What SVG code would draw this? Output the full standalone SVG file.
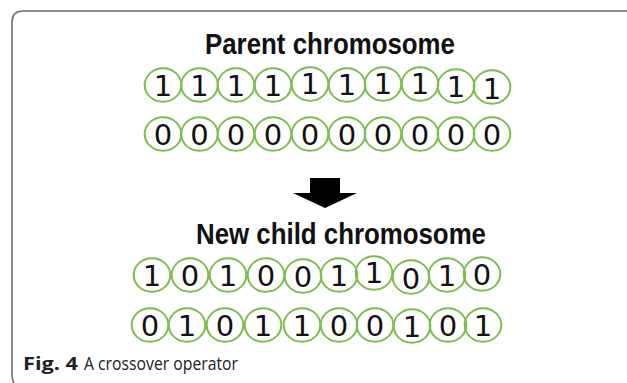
<svg xmlns="http://www.w3.org/2000/svg" width="627" height="383" viewBox="0 0 627 383">
<style>
.frame{fill:none;stroke:#6e6e6e;stroke-width:1.6}
.c{fill:none;stroke:#7cbd4e;stroke-width:2}
.d{font-family:"DejaVu Sans",sans-serif;font-size:29px;fill:#111;text-anchor:middle}
.t{font-family:"Liberation Sans",sans-serif;font-weight:bold;font-size:30px;fill:#111}
.cap{font-family:"Open Sans","Liberation Sans",sans-serif;font-size:18px;fill:#222}
</style>
<defs>
<ellipse id="g" rx="18.3" ry="16.8" class="c"/>
</defs>
<path class="frame" d="M627,11 H23 Q12,11 12,22 V374 Q12,381 15,385"/>
<g id="title-parent"><text class="t" x="205" y="54" textLength="250" lengthAdjust="spacingAndGlyphs">Parent chromosome</text></g>
<g id="parent-1">
<use href="#g" x="163" y="85"/><text class="d" x="163" y="96">1</text>
<use href="#g" x="199.5" y="85"/><text class="d" x="199.5" y="96">1</text>
<use href="#g" x="236" y="85"/><text class="d" x="236" y="96">1</text>
<use href="#g" x="273" y="85"/><text class="d" x="273" y="96">1</text>
<use href="#g" x="310" y="84"/><text class="d" x="310" y="94">1</text>
<use href="#g" x="347" y="85"/><text class="d" x="347" y="95">1</text>
<use href="#g" x="383" y="84"/><text class="d" x="383" y="94">1</text>
<use href="#g" x="420" y="84"/><text class="d" x="420" y="94">1</text>
<use href="#g" x="456" y="86"/><text class="d" x="456" y="97">1</text>
<use href="#g" x="492" y="87"/><text class="d" x="492" y="99">1</text>
</g>
<g id="parent-2">
<use href="#g" x="163" y="134"/><text class="d" x="163" y="145">0</text>
<use href="#g" x="199.5" y="134"/><text class="d" x="199.5" y="145">0</text>
<use href="#g" x="236" y="134"/><text class="d" x="236" y="145">0</text>
<use href="#g" x="273" y="134"/><text class="d" x="273" y="145">0</text>
<use href="#g" x="310" y="134"/><text class="d" x="310" y="145">0</text>
<use href="#g" x="347" y="134"/><text class="d" x="347" y="145">0</text>
<use href="#g" x="383" y="134"/><text class="d" x="383" y="145">0</text>
<use href="#g" x="420" y="134"/><text class="d" x="420" y="145">0</text>
<use href="#g" x="456" y="134"/><text class="d" x="456" y="145">0</text>
<use href="#g" x="492" y="134"/><text class="d" x="492" y="145">0</text>
</g>
<g id="connectors">
<path d="M310,178 H340 V193 H357 L325,208 L293,193 H310 Z" fill="#000"/>
</g>
<g id="title-child"><text class="t" x="196" y="244" textLength="290" lengthAdjust="spacingAndGlyphs">New child chromosome</text></g>
<g id="child-1">
<use href="#g" x="152" y="275"/><text class="d" x="152" y="286">1</text>
<use href="#g" x="190" y="275"/><text class="d" x="190" y="286">0</text>
<use href="#g" x="228" y="275"/><text class="d" x="228" y="286">1</text>
<use href="#g" x="266" y="275"/><text class="d" x="266" y="286">0</text>
<use href="#g" x="303" y="276"/><text class="d" x="303" y="287">0</text>
<use href="#g" x="339" y="275"/><text class="d" x="339" y="286">1</text>
<use href="#g" x="374" y="273"/><text class="d" x="374" y="283">1</text>
<use href="#g" x="411" y="277"/><text class="d" x="411" y="289">0</text>
<use href="#g" x="447" y="275"/><text class="d" x="447" y="286">1</text>
<use href="#g" x="482" y="274"/><text class="d" x="482" y="285">0</text>
</g>
<g id="child-2">
<use href="#g" x="150" y="325"/><text class="d" x="150" y="336">0</text>
<use href="#g" x="187" y="325"/><text class="d" x="187" y="336">1</text>
<use href="#g" x="225" y="325"/><text class="d" x="225" y="336">0</text>
<use href="#g" x="263" y="325"/><text class="d" x="263" y="336">1</text>
<use href="#g" x="302" y="325"/><text class="d" x="302" y="336">1</text>
<use href="#g" x="339" y="325"/><text class="d" x="339" y="336">0</text>
<use href="#g" x="375" y="325"/><text class="d" x="375" y="336">0</text>
<use href="#g" x="412" y="326"/><text class="d" x="412" y="337">1</text>
<use href="#g" x="448" y="325"/><text class="d" x="448" y="336">0</text>
<use href="#g" x="483" y="325"/><text class="d" x="483" y="336">1</text>
</g>
<g id="caption">
<text class="cap" x="23" y="370" font-weight="bold" textLength="55" lengthAdjust="spacingAndGlyphs">Fig. 4</text>
<text class="cap" x="84" y="370" textLength="154" lengthAdjust="spacingAndGlyphs">A crossover operator</text>
</g>
</svg>
